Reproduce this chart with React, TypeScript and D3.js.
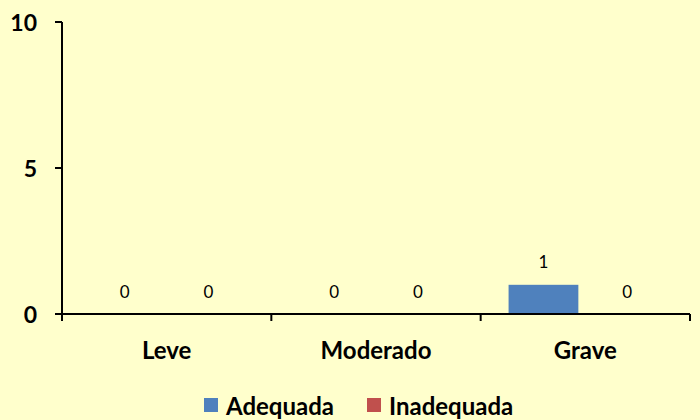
import React from "react";
import * as d3 from "d3";

const categories = ["Leve", "Moderado", "Grave"];
const seriesNames = ["Adequada", "Inadequada"];
const adequada = [0, 0, 1];
const inadequada = [0, 0, 0];
const yTicks = [0, 5, 10];
const colors = ["#4F81BD", "#C0504D"];

export default function App() {
  const W = 700, H = 420;
  const left = 62, right = 690, top = 22, bottom = 314;
  const x = d3.scaleBand<string>().domain(categories).range([left, right]).paddingInner(0).paddingOuter(0);
  const inner = d3.scaleBand<string>().domain(seriesNames).range([0, x.bandwidth()]).paddingInner(1 / 6).paddingOuter(1 / 3);
  const y = d3.scaleLinear().domain([0, 10]).range([bottom, top]);
  const series = [adequada, inadequada];
  const font = "Lato, 'Open Sans', sans-serif";
  const tickEdges = [...categories.map((c) => x(c)!), right];

  return (
    <svg width={W} height={H} style={{ position: "absolute", left: 0, top: 0, display: "block" }}>
      <rect x={0} y={0} width={W} height={H} fill="#FFFFCC" />
      {series.map((vals, si) =>
        categories.map((c, ci) => {
          const bx = x(c)! + inner(seriesNames[si])!;
          const bw = inner.bandwidth();
          const v = vals[ci];
          return (
            <g key={`${si}-${ci}`}>
              {v > 0 && <rect x={bx} y={y(v)} width={bw} height={y(0) - y(v)} fill={colors[si]} />}
              <text x={bx + bw / 2} y={y(v) - 23} textAnchor="middle" dominantBaseline="central" fontFamily={font} fontSize={17} fill="#000">
                {v}
              </text>
            </g>
          );
        })
      )}
      <line x1={left} x2={left} y1={top} y2={bottom} stroke="#000" strokeWidth={2} />
      <line x1={left - 7} x2={right} y1={bottom} y2={bottom} stroke="#000" strokeWidth={2} />
      {yTicks.map((t) => (
        <g key={t}>
          <line x1={left - 7} x2={left} y1={y(t)} y2={y(t)} stroke="#000" strokeWidth={2} />
          <text x={37} y={y(t)} textAnchor="end" dominantBaseline="central" fontFamily={font} fontWeight="bold" fontSize={23} fill="#000">
            {t}
          </text>
        </g>
      ))}
      {tickEdges.map((e, i) => (
        <line key={i} x1={e} x2={e} y1={bottom} y2={bottom + 7} stroke="#000" strokeWidth={2} />
      ))}
      {categories.map((c) => (
        <text key={c} x={x(c)! + x.bandwidth() / 2} y={349} textAnchor="middle" dominantBaseline="central" fontFamily={font} fontWeight="bold" fontSize={24} fill="#000">
          {c}
        </text>
      ))}
      {[{ name: seriesNames[0], sx: 204, tx: 226 }, { name: seriesNames[1], sx: 367, tx: 389 }].map((l, i) => (
        <g key={l.name}>
          <rect x={l.sx} y={398} width={14} height={14} fill={colors[i]} />
          <text x={l.tx} y={405} dominantBaseline="central" fontFamily={font} fontWeight="bold" fontSize={24} fill="#000">
            {l.name}
          </text>
        </g>
      ))}
    </svg>
  );
}
